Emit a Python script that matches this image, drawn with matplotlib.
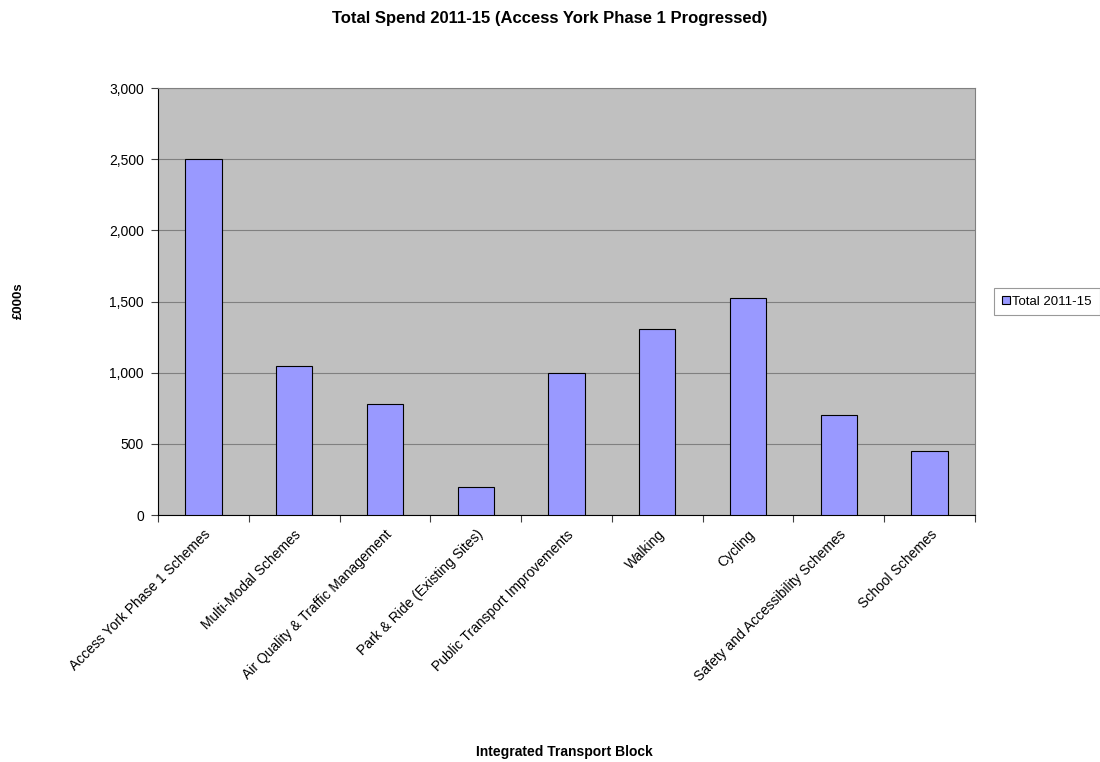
import numpy as np
import matplotlib.pyplot as plt
from matplotlib.ticker import FuncFormatter

# Spend per scheme (£000s)
categories = [
    "Access York Phase 1 Schemes",
    "Multi-Modal Schemes",
    "Air Quality & Traffic Management",
    "Park & Ride (Existing Sites)",
    "Public Transport Improvements",
    "Walking",
    "Cycling",
    "Safety and Accessibility Schemes",
    "School Schemes",
]
total_2011_15 = [2500, 1050, 780, 200, 1000, 1310, 1525, 700, 450]
y_ticks = [0, 500, 1000, 1500, 2000, 2500, 3000]

plt.rcParams['font.family'] = ['Liberation Sans', 'DejaVu Sans']

fig = plt.figure(figsize=(11, 7.62), dpi=100)
ax = fig.add_axes([0.1436, 0.3241, 0.7428, 0.5604])
ax.set_facecolor('#c0c0c0')

x = np.arange(len(categories))
ax.bar(x, total_2011_15, width=0.4, color='#9999ff', edgecolor='black',
       linewidth=0.8, label='Total 2011-15', zorder=3)

ax.set_xlim(-0.5, len(categories) - 0.5)
ax.set_ylim(0, 3000)
ax.set_yticks(y_ticks)
ax.yaxis.set_major_formatter(FuncFormatter(lambda v, p: f"{int(v):,}"))
ax.grid(axis='y', color='#808080', linewidth=0.8, zorder=1)

# category ticks sit on the boundaries, labels at the centres
ax.set_xticks(np.arange(len(categories) + 1) - 0.5)
ax.set_xticklabels([])
ax.set_xticks(x, minor=True)
ax.set_xticklabels(categories, minor=True, rotation=45, ha='right',
                   rotation_mode='anchor', fontsize=10)
ax.tick_params(axis='x', which='minor', length=0, pad=9)
ax.tick_params(axis='x', which='major', length=5, direction='out', color='#404040')
ax.tick_params(axis='y', length=5, direction='out', labelsize=10, color='#404040', pad=5)

for s in ['left', 'bottom']:
    ax.spines[s].set_color('black')
    ax.spines[s].set_linewidth(0.8)
for s in ['top', 'right']:
    ax.spines[s].set_color('#808080')
    ax.spines[s].set_linewidth(0.8)

fig.text(0.5, 0.976, "Total Spend 2011-15 (Access York Phase 1 Progressed)",
         ha='center', va='center', fontsize=12, fontweight='bold')
fig.text(0.513, 0.013, "Integrated Transport Block", ha='center', va='center',
         fontsize=10, fontweight='bold')
fig.text(0.017, 0.605, "£000s", ha='center', va='center', rotation=90,
         fontsize=9.5, fontweight='bold')

leg = ax.legend(loc='center left', bbox_to_anchor=(1.015, 0.5), fontsize=9.5,
                frameon=True, fancybox=False, handlelength=0.6, handleheight=0.6,
                handletextpad=0.2, borderpad=0.6)
leg.get_frame().set_edgecolor('#808080')
leg.get_frame().set_linewidth(0.8)

fig.savefig("out.png", dpi=100)
